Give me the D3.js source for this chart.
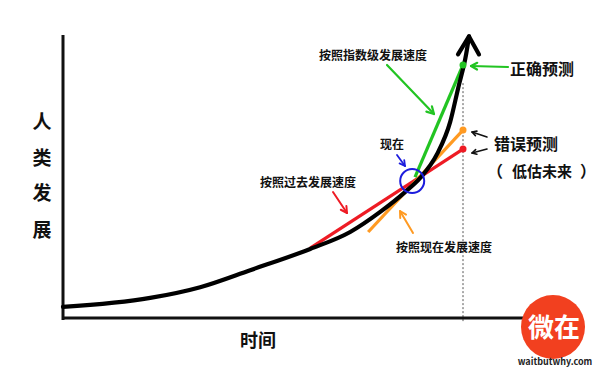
<!DOCTYPE html>
<html><head><meta charset="utf-8">
<script src="https://cdn.jsdelivr.net/npm/d3@7"></script>
<style>body{margin:0;background:#fff}svg{display:block}text{font-family:"Noto Sans CJK SC","Noto Sans",sans-serif;font-weight:700}</style>
</head><body><svg id="c" width="600" height="368"></svg>
<script>
// time (0 = start, 10 = forecast point), development level
const curveT = [0, 2.18, 3.43, 4.68, 6.18, 7.18, 7.93, 8.55, 8.93, 9.35, 9.68, 9.88, 10.08, 10.15];
const curveV = [3.9, 7.1, 10.9, 16.9, 24.4, 30.4, 37.5, 44.5, 49.5, 57.9, 69.3, 81.3, 93.3, 99.5];
const exponentialLine = [[8.8, 49.8], [10, 89.4]];
const currentRateLine = [[7.63, 30.4], [10, 66.4]];
const pastRateLine = [[6.18, 24.7], [10, 59.7]];
const nowPoint = [8.73, 48.4];
const yLabelChars = ["人", "类", "发", "展"];
const xLabel = "时间";

const svg = d3.select("#c");
const x = d3.scaleLinear().domain([0, 10]).range([63, 463]);
const y = d3.scaleLinear().domain([0, 100]).range([318, 35]);

function arrow(x1,y1,x2,y2,color,w,head){
  svg.append("line").attr("x1",x1).attr("y1",y1).attr("x2",x2).attr("y2",y2)
    .attr("stroke",color).attr("stroke-width",w).attr("stroke-linecap","round");
  const a=Math.atan2(y2-y1,x2-x1), h=head||7, s=0.5;
  svg.append("path").attr("d",`M${x2-h*Math.cos(a-s)},${y2-h*Math.sin(a-s)}L${x2},${y2}L${x2-h*Math.cos(a+s)},${y2-h*Math.sin(a+s)}`)
    .attr("fill","none").attr("stroke",color).attr("stroke-width",w).attr("stroke-linecap","round").attr("stroke-linejoin","round");
}

// dotted forecast line
svg.append("line").attr("x1",x(10)).attr("x2",x(10)).attr("y1",y(83)).attr("y2",322)
  .attr("stroke","#555").attr("stroke-width",1).attr("stroke-dasharray","2,2");

// axes
svg.append("line").attr("x1",x(0)).attr("x2",x(0)).attr("y1",y(100)).attr("y2",320).attr("stroke","#111").attr("stroke-width",3);
svg.append("line").attr("x1",x(0)-1).attr("x2",545).attr("y1",y(0)).attr("y2",y(0)).attr("stroke","#111").attr("stroke-width",3);

const line = d3.line().x(d=>x(d[0])).y(d=>y(d[1]));
const curve = curveT.map((t,i)=>[t,curveV[i]]);

// colored lines
[[pastRateLine,"#ee1b24"],[currentRateLine,"#ff9a22"],[exponentialLine,"#22c422"]].forEach(([d,c])=>{
  svg.append("path").attr("d",line(d)).attr("stroke",c).attr("stroke-width",3.2).attr("fill","none");
});

// main curve
svg.append("path").attr("d",d3.line().x(d=>x(d[0])).y(d=>y(d[1])).curve(d3.curveMonotoneX)(curve))
  .attr("fill","none").attr("stroke","#000").attr("stroke-width",4.2).attr("stroke-linecap","round");
// arrowhead
const tip = curve[curve.length-1];
svg.append("path").attr("d",`M${x(tip[0])-11},${y(tip[1])+18}L${x(tip[0])},${y(tip[1])}L${x(tip[0])+10},${y(tip[1])+18}`)
  .attr("fill","none").attr("stroke","#000").attr("stroke-width",4.2).attr("stroke-linecap","round").attr("stroke-linejoin","round");

// end dots
[[exponentialLine[1],"#22c422"],[currentRateLine[1],"#ff9a22"],[pastRateLine[1],"#ee1b24"]].forEach(([p,c])=>{
  svg.append("circle").attr("cx",x(p[0])).attr("cy",y(p[1])).attr("r",3.5).attr("fill",c);
});

// now circle
svg.append("circle").attr("cx",x(nowPoint[0])).attr("cy",y(nowPoint[1])).attr("r",12)
  .attr("fill","none").attr("stroke","#1c1cdd").attr("stroke-width",2);

// annotations
arrow(387,65,434,114,"#22c422",2.2,8);
arrow(508,67,471,66,"#22c422",2.2,7);
arrow(397,155,405,166,"#1c1cdd",1.8,6);
arrow(333,192,347,213,"#ee1b24",2,7);
arrow(413,233,400,211,"#ff9a22",2,7);
arrow(487,137,472,132,"#111",1.6,5);
arrow(487,149,472,153,"#111",1.6,5);

function txt(s,xx,yy,size,anchor,color){
  return svg.append("text").attr("x",xx).attr("y",yy).attr("font-size",size)
    .attr("text-anchor",anchor||"middle").attr("fill",color||"#111").text(s);
}
txt("按照指数级发展速度",373,60,12);
txt("正确预测",510,75,16,"start");
txt("错误预测",494,150,16,"start");
txt("（",487,177,16,"start");
txt("低估未来",512,177,15,"start");
txt("）",580,177,16,"start");
txt("现在",392,149,12);
txt("按照过去发展速度",308,187,12);
txt("按照现在发展速度",444,252,12);

yLabelChars.forEach((ch,i)=>txt(ch,42,[129,165,200,237][i],19));
txt(xLabel,258,347,18);

// logo
svg.append("circle").attr("cx",553).attr("cy",327).attr("r",32).attr("fill","#f2401f");
txt("微在",554,337,26,"middle","#fff");
txt("waitbutwhy.com",555,365,9,"middle","#222");
</script></body></html>
